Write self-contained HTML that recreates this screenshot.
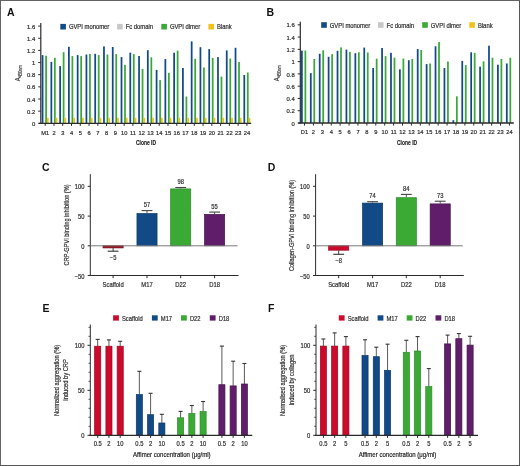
<!DOCTYPE html>
<html><head><meta charset="utf-8"><style>
html,body{margin:0;padding:0;background:#fff;}
body{width:520px;height:466px;overflow:hidden;position:relative;}
#fig{position:absolute;left:0;top:0;width:520px;height:466px;filter:blur(0.35px);}
svg{display:block;font-family:"Liberation Sans", sans-serif;}
#frame{position:absolute;left:0;top:0;width:518px;height:464px;border:1px solid #626262;border-right-color:#555;border-bottom-color:#555;}
</style></head><body>
<div id="fig"><svg width="520" height="466" viewBox="0 0 520 466">
<rect x="0" y="0" width="520" height="466" fill="#fff"/>
<text x="7.00" y="16.20" font-size="10.5" text-anchor="start" fill="#111" font-weight="bold" >A</text>
<line x1="40.80" y1="23.10" x2="40.80" y2="123.80" stroke="#2b2b2b" stroke-width="1.2"/>
<line x1="38.20" y1="123.30" x2="40.80" y2="123.30" stroke="#2b2b2b" stroke-width="1"/>
<text x="35.30" y="125.90" font-size="5.9" text-anchor="end" fill="#2e2e2e" font-weight="normal"  stroke="#2e2e2e" stroke-width="0.2">0</text>
<line x1="38.20" y1="111.15" x2="40.80" y2="111.15" stroke="#2b2b2b" stroke-width="1"/>
<text x="35.30" y="113.75" font-size="5.9" text-anchor="end" fill="#2e2e2e" font-weight="normal"  stroke="#2e2e2e" stroke-width="0.2">0.2</text>
<line x1="38.20" y1="99.00" x2="40.80" y2="99.00" stroke="#2b2b2b" stroke-width="1"/>
<text x="35.30" y="101.60" font-size="5.9" text-anchor="end" fill="#2e2e2e" font-weight="normal"  stroke="#2e2e2e" stroke-width="0.2">0.4</text>
<line x1="38.20" y1="86.85" x2="40.80" y2="86.85" stroke="#2b2b2b" stroke-width="1"/>
<text x="35.30" y="89.45" font-size="5.9" text-anchor="end" fill="#2e2e2e" font-weight="normal"  stroke="#2e2e2e" stroke-width="0.2">0.6</text>
<line x1="38.20" y1="74.70" x2="40.80" y2="74.70" stroke="#2b2b2b" stroke-width="1"/>
<text x="35.30" y="77.30" font-size="5.9" text-anchor="end" fill="#2e2e2e" font-weight="normal"  stroke="#2e2e2e" stroke-width="0.2">0.8</text>
<line x1="38.20" y1="62.55" x2="40.80" y2="62.55" stroke="#2b2b2b" stroke-width="1"/>
<text x="35.30" y="65.15" font-size="5.9" text-anchor="end" fill="#2e2e2e" font-weight="normal"  stroke="#2e2e2e" stroke-width="0.2">1</text>
<line x1="38.20" y1="50.40" x2="40.80" y2="50.40" stroke="#2b2b2b" stroke-width="1"/>
<text x="35.30" y="53.00" font-size="5.9" text-anchor="end" fill="#2e2e2e" font-weight="normal"  stroke="#2e2e2e" stroke-width="0.2">1.2</text>
<line x1="38.20" y1="38.25" x2="40.80" y2="38.25" stroke="#2b2b2b" stroke-width="1"/>
<text x="35.30" y="40.85" font-size="5.9" text-anchor="end" fill="#2e2e2e" font-weight="normal"  stroke="#2e2e2e" stroke-width="0.2">1.4</text>
<line x1="38.20" y1="26.10" x2="40.80" y2="26.10" stroke="#2b2b2b" stroke-width="1"/>
<text x="35.30" y="28.70" font-size="5.9" text-anchor="end" fill="#2e2e2e" font-weight="normal"  stroke="#2e2e2e" stroke-width="0.2">1.6</text>
<rect x="41.70" y="55.10" width="1.75" height="68.20" fill="#114a87"/>
<rect x="45.20" y="55.70" width="1.75" height="67.60" fill="#3aaa35"/>
<rect x="46.95" y="117.80" width="1.75" height="5.50" fill="#f1c21b"/>
<rect x="50.47" y="61.90" width="1.75" height="61.40" fill="#114a87"/>
<rect x="53.97" y="57.80" width="1.75" height="65.50" fill="#3aaa35"/>
<rect x="55.72" y="117.80" width="1.75" height="5.50" fill="#f1c21b"/>
<rect x="59.24" y="66.10" width="1.75" height="57.20" fill="#114a87"/>
<rect x="62.74" y="52.20" width="1.75" height="71.10" fill="#3aaa35"/>
<rect x="64.49" y="117.80" width="1.75" height="5.50" fill="#f1c21b"/>
<rect x="68.01" y="46.80" width="1.75" height="76.50" fill="#114a87"/>
<rect x="71.51" y="56.10" width="1.75" height="67.20" fill="#3aaa35"/>
<rect x="73.26" y="117.80" width="1.75" height="5.50" fill="#f1c21b"/>
<rect x="76.78" y="55.10" width="1.75" height="68.20" fill="#114a87"/>
<rect x="80.28" y="56.10" width="1.75" height="67.20" fill="#3aaa35"/>
<rect x="82.03" y="117.80" width="1.75" height="5.50" fill="#f1c21b"/>
<rect x="85.55" y="54.50" width="1.75" height="68.80" fill="#114a87"/>
<rect x="89.05" y="53.90" width="1.75" height="69.40" fill="#3aaa35"/>
<rect x="90.80" y="117.80" width="1.75" height="5.50" fill="#f1c21b"/>
<rect x="94.32" y="53.80" width="1.75" height="69.50" fill="#114a87"/>
<rect x="97.82" y="55.10" width="1.75" height="68.20" fill="#3aaa35"/>
<rect x="99.57" y="117.80" width="1.75" height="5.50" fill="#f1c21b"/>
<rect x="103.09" y="46.40" width="1.75" height="76.90" fill="#114a87"/>
<rect x="106.59" y="54.50" width="1.75" height="68.80" fill="#3aaa35"/>
<rect x="108.34" y="117.80" width="1.75" height="5.50" fill="#f1c21b"/>
<rect x="111.86" y="47.00" width="1.75" height="76.30" fill="#114a87"/>
<rect x="115.36" y="54.10" width="1.75" height="69.20" fill="#3aaa35"/>
<rect x="117.11" y="117.80" width="1.75" height="5.50" fill="#f1c21b"/>
<rect x="120.63" y="57.10" width="1.75" height="66.20" fill="#114a87"/>
<rect x="124.13" y="64.80" width="1.75" height="58.50" fill="#3aaa35"/>
<rect x="125.88" y="117.80" width="1.75" height="5.50" fill="#f1c21b"/>
<rect x="129.40" y="52.60" width="1.75" height="70.70" fill="#114a87"/>
<rect x="132.90" y="54.10" width="1.75" height="69.20" fill="#3aaa35"/>
<rect x="134.65" y="117.80" width="1.75" height="5.50" fill="#f1c21b"/>
<rect x="138.17" y="56.00" width="1.75" height="67.30" fill="#114a87"/>
<rect x="141.67" y="68.90" width="1.75" height="54.40" fill="#3aaa35"/>
<rect x="143.42" y="117.80" width="1.75" height="5.50" fill="#f1c21b"/>
<rect x="146.94" y="50.20" width="1.75" height="73.10" fill="#114a87"/>
<rect x="150.44" y="57.30" width="1.75" height="66.00" fill="#3aaa35"/>
<rect x="152.19" y="117.80" width="1.75" height="5.50" fill="#f1c21b"/>
<rect x="155.71" y="69.90" width="1.75" height="53.40" fill="#114a87"/>
<rect x="159.21" y="80.10" width="1.75" height="43.20" fill="#3aaa35"/>
<rect x="160.96" y="117.80" width="1.75" height="5.50" fill="#f1c21b"/>
<rect x="164.48" y="59.10" width="1.75" height="64.20" fill="#114a87"/>
<rect x="167.98" y="72.90" width="1.75" height="50.40" fill="#3aaa35"/>
<rect x="169.73" y="117.80" width="1.75" height="5.50" fill="#f1c21b"/>
<rect x="173.25" y="52.70" width="1.75" height="70.60" fill="#114a87"/>
<rect x="176.75" y="50.60" width="1.75" height="72.70" fill="#3aaa35"/>
<rect x="178.50" y="117.80" width="1.75" height="5.50" fill="#f1c21b"/>
<rect x="182.02" y="68.00" width="1.75" height="55.30" fill="#114a87"/>
<rect x="185.52" y="96.50" width="1.75" height="26.80" fill="#3aaa35"/>
<rect x="187.27" y="117.80" width="1.75" height="5.50" fill="#f1c21b"/>
<rect x="190.79" y="41.40" width="1.75" height="81.90" fill="#114a87"/>
<rect x="194.29" y="58.80" width="1.75" height="64.50" fill="#3aaa35"/>
<rect x="196.04" y="117.80" width="1.75" height="5.50" fill="#f1c21b"/>
<rect x="199.56" y="47.20" width="1.75" height="76.10" fill="#114a87"/>
<rect x="203.06" y="67.50" width="1.75" height="55.80" fill="#3aaa35"/>
<rect x="204.81" y="117.80" width="1.75" height="5.50" fill="#f1c21b"/>
<rect x="208.33" y="49.10" width="1.75" height="74.20" fill="#114a87"/>
<rect x="211.83" y="57.90" width="1.75" height="65.40" fill="#3aaa35"/>
<rect x="213.58" y="117.80" width="1.75" height="5.50" fill="#f1c21b"/>
<rect x="217.10" y="57.10" width="1.75" height="66.20" fill="#114a87"/>
<rect x="220.60" y="76.60" width="1.75" height="46.70" fill="#3aaa35"/>
<rect x="222.35" y="117.80" width="1.75" height="5.50" fill="#f1c21b"/>
<rect x="225.87" y="50.40" width="1.75" height="72.90" fill="#114a87"/>
<rect x="229.37" y="58.50" width="1.75" height="64.80" fill="#3aaa35"/>
<rect x="231.12" y="117.80" width="1.75" height="5.50" fill="#f1c21b"/>
<rect x="234.64" y="47.80" width="1.75" height="75.50" fill="#114a87"/>
<rect x="238.14" y="62.00" width="1.75" height="61.30" fill="#3aaa35"/>
<rect x="239.89" y="117.80" width="1.75" height="5.50" fill="#f1c21b"/>
<rect x="243.41" y="75.00" width="1.75" height="48.30" fill="#114a87"/>
<rect x="246.91" y="72.50" width="1.75" height="50.80" fill="#3aaa35"/>
<rect x="248.66" y="117.80" width="1.75" height="5.50" fill="#f1c21b"/>
<line x1="38.80" y1="123.30" x2="251.20" y2="123.30" stroke="#2b2b2b" stroke-width="1.3"/>
<line x1="45.20" y1="123.30" x2="45.20" y2="125.90" stroke="#2b2b2b" stroke-width="1.0"/>
<text transform="translate(45.20,134.70) scale(0.97,1)" font-size="5.9" text-anchor="middle" fill="#2e2e2e" font-weight="normal"  stroke="#2e2e2e" stroke-width="0.2">M1</text>
<line x1="53.97" y1="123.30" x2="53.97" y2="125.90" stroke="#2b2b2b" stroke-width="1.0"/>
<text transform="translate(53.97,134.70) scale(0.97,1)" font-size="5.9" text-anchor="middle" fill="#2e2e2e" font-weight="normal"  stroke="#2e2e2e" stroke-width="0.2">2</text>
<line x1="62.74" y1="123.30" x2="62.74" y2="125.90" stroke="#2b2b2b" stroke-width="1.0"/>
<text transform="translate(62.74,134.70) scale(0.97,1)" font-size="5.9" text-anchor="middle" fill="#2e2e2e" font-weight="normal"  stroke="#2e2e2e" stroke-width="0.2">3</text>
<line x1="71.51" y1="123.30" x2="71.51" y2="125.90" stroke="#2b2b2b" stroke-width="1.0"/>
<text transform="translate(71.51,134.70) scale(0.97,1)" font-size="5.9" text-anchor="middle" fill="#2e2e2e" font-weight="normal"  stroke="#2e2e2e" stroke-width="0.2">4</text>
<line x1="80.28" y1="123.30" x2="80.28" y2="125.90" stroke="#2b2b2b" stroke-width="1.0"/>
<text transform="translate(80.28,134.70) scale(0.97,1)" font-size="5.9" text-anchor="middle" fill="#2e2e2e" font-weight="normal"  stroke="#2e2e2e" stroke-width="0.2">5</text>
<line x1="89.05" y1="123.30" x2="89.05" y2="125.90" stroke="#2b2b2b" stroke-width="1.0"/>
<text transform="translate(89.05,134.70) scale(0.97,1)" font-size="5.9" text-anchor="middle" fill="#2e2e2e" font-weight="normal"  stroke="#2e2e2e" stroke-width="0.2">6</text>
<line x1="97.82" y1="123.30" x2="97.82" y2="125.90" stroke="#2b2b2b" stroke-width="1.0"/>
<text transform="translate(97.82,134.70) scale(0.97,1)" font-size="5.9" text-anchor="middle" fill="#2e2e2e" font-weight="normal"  stroke="#2e2e2e" stroke-width="0.2">7</text>
<line x1="106.59" y1="123.30" x2="106.59" y2="125.90" stroke="#2b2b2b" stroke-width="1.0"/>
<text transform="translate(106.59,134.70) scale(0.97,1)" font-size="5.9" text-anchor="middle" fill="#2e2e2e" font-weight="normal"  stroke="#2e2e2e" stroke-width="0.2">8</text>
<line x1="115.36" y1="123.30" x2="115.36" y2="125.90" stroke="#2b2b2b" stroke-width="1.0"/>
<text transform="translate(115.36,134.70) scale(0.97,1)" font-size="5.9" text-anchor="middle" fill="#2e2e2e" font-weight="normal"  stroke="#2e2e2e" stroke-width="0.2">9</text>
<line x1="124.13" y1="123.30" x2="124.13" y2="125.90" stroke="#2b2b2b" stroke-width="1.0"/>
<text transform="translate(124.13,134.70) scale(0.97,1)" font-size="5.9" text-anchor="middle" fill="#2e2e2e" font-weight="normal"  stroke="#2e2e2e" stroke-width="0.2">10</text>
<line x1="132.90" y1="123.30" x2="132.90" y2="125.90" stroke="#2b2b2b" stroke-width="1.0"/>
<text transform="translate(132.90,134.70) scale(0.97,1)" font-size="5.9" text-anchor="middle" fill="#2e2e2e" font-weight="normal"  stroke="#2e2e2e" stroke-width="0.2">11</text>
<line x1="141.67" y1="123.30" x2="141.67" y2="125.90" stroke="#2b2b2b" stroke-width="1.0"/>
<text transform="translate(141.67,134.70) scale(0.97,1)" font-size="5.9" text-anchor="middle" fill="#2e2e2e" font-weight="normal"  stroke="#2e2e2e" stroke-width="0.2">12</text>
<line x1="150.44" y1="123.30" x2="150.44" y2="125.90" stroke="#2b2b2b" stroke-width="1.0"/>
<text transform="translate(150.44,134.70) scale(0.97,1)" font-size="5.9" text-anchor="middle" fill="#2e2e2e" font-weight="normal"  stroke="#2e2e2e" stroke-width="0.2">13</text>
<line x1="159.21" y1="123.30" x2="159.21" y2="125.90" stroke="#2b2b2b" stroke-width="1.0"/>
<text transform="translate(159.21,134.70) scale(0.97,1)" font-size="5.9" text-anchor="middle" fill="#2e2e2e" font-weight="normal"  stroke="#2e2e2e" stroke-width="0.2">14</text>
<line x1="167.98" y1="123.30" x2="167.98" y2="125.90" stroke="#2b2b2b" stroke-width="1.0"/>
<text transform="translate(167.98,134.70) scale(0.97,1)" font-size="5.9" text-anchor="middle" fill="#2e2e2e" font-weight="normal"  stroke="#2e2e2e" stroke-width="0.2">15</text>
<line x1="176.75" y1="123.30" x2="176.75" y2="125.90" stroke="#2b2b2b" stroke-width="1.0"/>
<text transform="translate(176.75,134.70) scale(0.97,1)" font-size="5.9" text-anchor="middle" fill="#2e2e2e" font-weight="normal"  stroke="#2e2e2e" stroke-width="0.2">16</text>
<line x1="185.52" y1="123.30" x2="185.52" y2="125.90" stroke="#2b2b2b" stroke-width="1.0"/>
<text transform="translate(185.52,134.70) scale(0.97,1)" font-size="5.9" text-anchor="middle" fill="#2e2e2e" font-weight="normal"  stroke="#2e2e2e" stroke-width="0.2">17</text>
<line x1="194.29" y1="123.30" x2="194.29" y2="125.90" stroke="#2b2b2b" stroke-width="1.0"/>
<text transform="translate(194.29,134.70) scale(0.97,1)" font-size="5.9" text-anchor="middle" fill="#2e2e2e" font-weight="normal"  stroke="#2e2e2e" stroke-width="0.2">18</text>
<line x1="203.06" y1="123.30" x2="203.06" y2="125.90" stroke="#2b2b2b" stroke-width="1.0"/>
<text transform="translate(203.06,134.70) scale(0.97,1)" font-size="5.9" text-anchor="middle" fill="#2e2e2e" font-weight="normal"  stroke="#2e2e2e" stroke-width="0.2">19</text>
<line x1="211.83" y1="123.30" x2="211.83" y2="125.90" stroke="#2b2b2b" stroke-width="1.0"/>
<text transform="translate(211.83,134.70) scale(0.97,1)" font-size="5.9" text-anchor="middle" fill="#2e2e2e" font-weight="normal"  stroke="#2e2e2e" stroke-width="0.2">20</text>
<line x1="220.60" y1="123.30" x2="220.60" y2="125.90" stroke="#2b2b2b" stroke-width="1.0"/>
<text transform="translate(220.60,134.70) scale(0.97,1)" font-size="5.9" text-anchor="middle" fill="#2e2e2e" font-weight="normal"  stroke="#2e2e2e" stroke-width="0.2">21</text>
<line x1="229.37" y1="123.30" x2="229.37" y2="125.90" stroke="#2b2b2b" stroke-width="1.0"/>
<text transform="translate(229.37,134.70) scale(0.97,1)" font-size="5.9" text-anchor="middle" fill="#2e2e2e" font-weight="normal"  stroke="#2e2e2e" stroke-width="0.2">22</text>
<line x1="238.14" y1="123.30" x2="238.14" y2="125.90" stroke="#2b2b2b" stroke-width="1.0"/>
<text transform="translate(238.14,134.70) scale(0.97,1)" font-size="5.9" text-anchor="middle" fill="#2e2e2e" font-weight="normal"  stroke="#2e2e2e" stroke-width="0.2">23</text>
<line x1="246.91" y1="123.30" x2="246.91" y2="125.90" stroke="#2b2b2b" stroke-width="1.0"/>
<text transform="translate(246.91,134.70) scale(0.97,1)" font-size="5.9" text-anchor="middle" fill="#2e2e2e" font-weight="normal"  stroke="#2e2e2e" stroke-width="0.2">24</text>
<text transform="translate(146.00,145.10) scale(0.7,1)" font-size="7.1" text-anchor="middle" fill="#222" font-weight="bold" stroke="#222" stroke-width="0.15">Clone ID</text>
<text transform="translate(19.70,81.20) rotate(-90) scale(0.80,1)" font-size="7.4" fill="#2e2e2e" stroke="#2e2e2e" stroke-width="0.2">A</text>
<text transform="translate(21.70,77.20) rotate(-90) scale(0.70,1)" font-size="5.6" fill="#2e2e2e" stroke="#2e2e2e" stroke-width="0.15">450nm</text>
<rect x="60.30" y="23.90" width="5.60" height="5.60" fill="#114a87"/>
<text transform="translate(68.90,29.20) scale(0.92,1)" font-size="6.4" text-anchor="start" fill="#2e2e2e" font-weight="normal"  stroke="#2e2e2e" stroke-width="0.2">GVPI monomer</text>
<rect x="117.10" y="23.90" width="5.60" height="5.60" fill="#c8c8c8"/>
<text transform="translate(125.70,29.20) scale(0.92,1)" font-size="6.4" text-anchor="start" fill="#2e2e2e" font-weight="normal"  stroke="#2e2e2e" stroke-width="0.2">Fc domain</text>
<rect x="161.30" y="23.90" width="5.60" height="5.60" fill="#3aaa35"/>
<text transform="translate(169.90,29.20) scale(0.92,1)" font-size="6.4" text-anchor="start" fill="#2e2e2e" font-weight="normal"  stroke="#2e2e2e" stroke-width="0.2">GVPI dimer</text>
<rect x="208.40" y="23.90" width="5.60" height="5.60" fill="#f1c21b"/>
<text transform="translate(217.00,29.20) scale(0.92,1)" font-size="6.4" text-anchor="start" fill="#2e2e2e" font-weight="normal"  stroke="#2e2e2e" stroke-width="0.2">Blank</text>
<text x="266.50" y="15.70" font-size="10.5" text-anchor="start" fill="#111" font-weight="bold" >B</text>
<line x1="300.30" y1="21.80" x2="300.30" y2="123.50" stroke="#2b2b2b" stroke-width="1.2"/>
<line x1="297.70" y1="123.00" x2="300.30" y2="123.00" stroke="#2b2b2b" stroke-width="1"/>
<text x="294.80" y="125.60" font-size="5.9" text-anchor="end" fill="#2e2e2e" font-weight="normal"  stroke="#2e2e2e" stroke-width="0.2">0</text>
<line x1="297.70" y1="110.72" x2="300.30" y2="110.72" stroke="#2b2b2b" stroke-width="1"/>
<text x="294.80" y="113.32" font-size="5.9" text-anchor="end" fill="#2e2e2e" font-weight="normal"  stroke="#2e2e2e" stroke-width="0.2">0.2</text>
<line x1="297.70" y1="98.45" x2="300.30" y2="98.45" stroke="#2b2b2b" stroke-width="1"/>
<text x="294.80" y="101.05" font-size="5.9" text-anchor="end" fill="#2e2e2e" font-weight="normal"  stroke="#2e2e2e" stroke-width="0.2">0.4</text>
<line x1="297.70" y1="86.17" x2="300.30" y2="86.17" stroke="#2b2b2b" stroke-width="1"/>
<text x="294.80" y="88.77" font-size="5.9" text-anchor="end" fill="#2e2e2e" font-weight="normal"  stroke="#2e2e2e" stroke-width="0.2">0.6</text>
<line x1="297.70" y1="73.90" x2="300.30" y2="73.90" stroke="#2b2b2b" stroke-width="1"/>
<text x="294.80" y="76.50" font-size="5.9" text-anchor="end" fill="#2e2e2e" font-weight="normal"  stroke="#2e2e2e" stroke-width="0.2">0.8</text>
<line x1="297.70" y1="61.62" x2="300.30" y2="61.62" stroke="#2b2b2b" stroke-width="1"/>
<text x="294.80" y="64.22" font-size="5.9" text-anchor="end" fill="#2e2e2e" font-weight="normal"  stroke="#2e2e2e" stroke-width="0.2">1</text>
<line x1="297.70" y1="49.35" x2="300.30" y2="49.35" stroke="#2b2b2b" stroke-width="1"/>
<text x="294.80" y="51.95" font-size="5.9" text-anchor="end" fill="#2e2e2e" font-weight="normal"  stroke="#2e2e2e" stroke-width="0.2">1.2</text>
<line x1="297.70" y1="37.07" x2="300.30" y2="37.07" stroke="#2b2b2b" stroke-width="1"/>
<text x="294.80" y="39.67" font-size="5.9" text-anchor="end" fill="#2e2e2e" font-weight="normal"  stroke="#2e2e2e" stroke-width="0.2">1.4</text>
<line x1="297.70" y1="24.80" x2="300.30" y2="24.80" stroke="#2b2b2b" stroke-width="1"/>
<text x="294.80" y="27.40" font-size="5.9" text-anchor="end" fill="#2e2e2e" font-weight="normal"  stroke="#2e2e2e" stroke-width="0.2">1.6</text>
<rect x="301.00" y="50.60" width="1.75" height="72.40" fill="#114a87"/>
<rect x="304.50" y="50.60" width="1.75" height="72.40" fill="#3aaa35"/>
<rect x="306.25" y="122.30" width="1.75" height="0.70" fill="#f1c21b"/>
<rect x="309.91" y="73.10" width="1.75" height="49.90" fill="#114a87"/>
<rect x="313.41" y="59.00" width="1.75" height="64.00" fill="#3aaa35"/>
<rect x="315.16" y="122.30" width="1.75" height="0.70" fill="#f1c21b"/>
<rect x="318.82" y="53.80" width="1.75" height="69.20" fill="#114a87"/>
<rect x="322.32" y="50.30" width="1.75" height="72.70" fill="#3aaa35"/>
<rect x="324.07" y="122.30" width="1.75" height="0.70" fill="#f1c21b"/>
<rect x="327.73" y="56.80" width="1.75" height="66.20" fill="#114a87"/>
<rect x="331.23" y="54.20" width="1.75" height="68.80" fill="#3aaa35"/>
<rect x="332.98" y="122.30" width="1.75" height="0.70" fill="#f1c21b"/>
<rect x="336.64" y="50.80" width="1.75" height="72.20" fill="#114a87"/>
<rect x="340.14" y="47.40" width="1.75" height="75.60" fill="#3aaa35"/>
<rect x="341.89" y="122.30" width="1.75" height="0.70" fill="#f1c21b"/>
<rect x="345.55" y="49.60" width="1.75" height="73.40" fill="#114a87"/>
<rect x="349.05" y="51.90" width="1.75" height="71.10" fill="#3aaa35"/>
<rect x="350.80" y="122.30" width="1.75" height="0.70" fill="#f1c21b"/>
<rect x="354.46" y="53.20" width="1.75" height="69.80" fill="#114a87"/>
<rect x="357.96" y="52.30" width="1.75" height="70.70" fill="#3aaa35"/>
<rect x="359.71" y="122.30" width="1.75" height="0.70" fill="#f1c21b"/>
<rect x="363.37" y="47.60" width="1.75" height="75.40" fill="#114a87"/>
<rect x="366.87" y="52.50" width="1.75" height="70.50" fill="#3aaa35"/>
<rect x="368.62" y="122.30" width="1.75" height="0.70" fill="#f1c21b"/>
<rect x="372.28" y="68.00" width="1.75" height="55.00" fill="#114a87"/>
<rect x="375.78" y="58.70" width="1.75" height="64.30" fill="#3aaa35"/>
<rect x="377.53" y="122.30" width="1.75" height="0.70" fill="#f1c21b"/>
<rect x="381.19" y="48.00" width="1.75" height="75.00" fill="#114a87"/>
<rect x="384.69" y="56.10" width="1.75" height="66.90" fill="#3aaa35"/>
<rect x="386.44" y="122.30" width="1.75" height="0.70" fill="#f1c21b"/>
<rect x="390.10" y="52.80" width="1.75" height="70.20" fill="#114a87"/>
<rect x="393.60" y="57.70" width="1.75" height="65.30" fill="#3aaa35"/>
<rect x="395.35" y="122.30" width="1.75" height="0.70" fill="#f1c21b"/>
<rect x="399.01" y="69.30" width="1.75" height="53.70" fill="#114a87"/>
<rect x="402.51" y="58.60" width="1.75" height="64.40" fill="#3aaa35"/>
<rect x="404.26" y="122.30" width="1.75" height="0.70" fill="#f1c21b"/>
<rect x="407.92" y="60.20" width="1.75" height="62.80" fill="#114a87"/>
<rect x="411.42" y="59.00" width="1.75" height="64.00" fill="#3aaa35"/>
<rect x="413.17" y="122.30" width="1.75" height="0.70" fill="#f1c21b"/>
<rect x="416.83" y="49.00" width="1.75" height="74.00" fill="#114a87"/>
<rect x="420.33" y="50.00" width="1.75" height="73.00" fill="#3aaa35"/>
<rect x="422.08" y="122.30" width="1.75" height="0.70" fill="#f1c21b"/>
<rect x="425.74" y="64.10" width="1.75" height="58.90" fill="#114a87"/>
<rect x="429.24" y="63.50" width="1.75" height="59.50" fill="#3aaa35"/>
<rect x="430.99" y="122.30" width="1.75" height="0.70" fill="#f1c21b"/>
<rect x="434.65" y="46.30" width="1.75" height="76.70" fill="#114a87"/>
<rect x="438.15" y="42.00" width="1.75" height="81.00" fill="#3aaa35"/>
<rect x="439.90" y="122.30" width="1.75" height="0.70" fill="#f1c21b"/>
<rect x="443.56" y="68.00" width="1.75" height="55.00" fill="#114a87"/>
<rect x="447.06" y="61.50" width="1.75" height="61.50" fill="#3aaa35"/>
<rect x="448.81" y="122.30" width="1.75" height="0.70" fill="#f1c21b"/>
<rect x="452.47" y="120.20" width="1.75" height="2.80" fill="#114a87"/>
<rect x="455.97" y="96.30" width="1.75" height="26.70" fill="#3aaa35"/>
<rect x="457.72" y="122.30" width="1.75" height="0.70" fill="#f1c21b"/>
<rect x="461.38" y="60.90" width="1.75" height="62.10" fill="#114a87"/>
<rect x="464.88" y="65.10" width="1.75" height="57.90" fill="#3aaa35"/>
<rect x="466.63" y="122.30" width="1.75" height="0.70" fill="#f1c21b"/>
<rect x="470.29" y="52.30" width="1.75" height="70.70" fill="#114a87"/>
<rect x="473.79" y="52.90" width="1.75" height="70.10" fill="#3aaa35"/>
<rect x="475.54" y="122.30" width="1.75" height="0.70" fill="#f1c21b"/>
<rect x="479.20" y="66.70" width="1.75" height="56.30" fill="#114a87"/>
<rect x="482.70" y="61.30" width="1.75" height="61.70" fill="#3aaa35"/>
<rect x="484.45" y="122.30" width="1.75" height="0.70" fill="#f1c21b"/>
<rect x="488.11" y="45.70" width="1.75" height="77.30" fill="#114a87"/>
<rect x="491.61" y="57.70" width="1.75" height="65.30" fill="#3aaa35"/>
<rect x="493.36" y="122.30" width="1.75" height="0.70" fill="#f1c21b"/>
<rect x="497.02" y="64.70" width="1.75" height="58.30" fill="#114a87"/>
<rect x="500.52" y="59.00" width="1.75" height="64.00" fill="#3aaa35"/>
<rect x="502.27" y="122.30" width="1.75" height="0.70" fill="#f1c21b"/>
<rect x="505.93" y="63.50" width="1.75" height="59.50" fill="#114a87"/>
<rect x="509.43" y="57.70" width="1.75" height="65.30" fill="#3aaa35"/>
<rect x="511.18" y="122.30" width="1.75" height="0.70" fill="#f1c21b"/>
<line x1="298.30" y1="123.00" x2="513.80" y2="123.00" stroke="#2b2b2b" stroke-width="1.3"/>
<line x1="304.50" y1="123.00" x2="304.50" y2="125.60" stroke="#2b2b2b" stroke-width="1.0"/>
<text transform="translate(304.50,134.30) scale(0.97,1)" font-size="5.9" text-anchor="middle" fill="#2e2e2e" font-weight="normal"  stroke="#2e2e2e" stroke-width="0.2">D1</text>
<line x1="313.41" y1="123.00" x2="313.41" y2="125.60" stroke="#2b2b2b" stroke-width="1.0"/>
<text transform="translate(313.41,134.30) scale(0.97,1)" font-size="5.9" text-anchor="middle" fill="#2e2e2e" font-weight="normal"  stroke="#2e2e2e" stroke-width="0.2">2</text>
<line x1="322.32" y1="123.00" x2="322.32" y2="125.60" stroke="#2b2b2b" stroke-width="1.0"/>
<text transform="translate(322.32,134.30) scale(0.97,1)" font-size="5.9" text-anchor="middle" fill="#2e2e2e" font-weight="normal"  stroke="#2e2e2e" stroke-width="0.2">3</text>
<line x1="331.23" y1="123.00" x2="331.23" y2="125.60" stroke="#2b2b2b" stroke-width="1.0"/>
<text transform="translate(331.23,134.30) scale(0.97,1)" font-size="5.9" text-anchor="middle" fill="#2e2e2e" font-weight="normal"  stroke="#2e2e2e" stroke-width="0.2">4</text>
<line x1="340.14" y1="123.00" x2="340.14" y2="125.60" stroke="#2b2b2b" stroke-width="1.0"/>
<text transform="translate(340.14,134.30) scale(0.97,1)" font-size="5.9" text-anchor="middle" fill="#2e2e2e" font-weight="normal"  stroke="#2e2e2e" stroke-width="0.2">5</text>
<line x1="349.05" y1="123.00" x2="349.05" y2="125.60" stroke="#2b2b2b" stroke-width="1.0"/>
<text transform="translate(349.05,134.30) scale(0.97,1)" font-size="5.9" text-anchor="middle" fill="#2e2e2e" font-weight="normal"  stroke="#2e2e2e" stroke-width="0.2">6</text>
<line x1="357.96" y1="123.00" x2="357.96" y2="125.60" stroke="#2b2b2b" stroke-width="1.0"/>
<text transform="translate(357.96,134.30) scale(0.97,1)" font-size="5.9" text-anchor="middle" fill="#2e2e2e" font-weight="normal"  stroke="#2e2e2e" stroke-width="0.2">7</text>
<line x1="366.87" y1="123.00" x2="366.87" y2="125.60" stroke="#2b2b2b" stroke-width="1.0"/>
<text transform="translate(366.87,134.30) scale(0.97,1)" font-size="5.9" text-anchor="middle" fill="#2e2e2e" font-weight="normal"  stroke="#2e2e2e" stroke-width="0.2">8</text>
<line x1="375.78" y1="123.00" x2="375.78" y2="125.60" stroke="#2b2b2b" stroke-width="1.0"/>
<text transform="translate(375.78,134.30) scale(0.97,1)" font-size="5.9" text-anchor="middle" fill="#2e2e2e" font-weight="normal"  stroke="#2e2e2e" stroke-width="0.2">9</text>
<line x1="384.69" y1="123.00" x2="384.69" y2="125.60" stroke="#2b2b2b" stroke-width="1.0"/>
<text transform="translate(384.69,134.30) scale(0.97,1)" font-size="5.9" text-anchor="middle" fill="#2e2e2e" font-weight="normal"  stroke="#2e2e2e" stroke-width="0.2">10</text>
<line x1="393.60" y1="123.00" x2="393.60" y2="125.60" stroke="#2b2b2b" stroke-width="1.0"/>
<text transform="translate(393.60,134.30) scale(0.97,1)" font-size="5.9" text-anchor="middle" fill="#2e2e2e" font-weight="normal"  stroke="#2e2e2e" stroke-width="0.2">11</text>
<line x1="402.51" y1="123.00" x2="402.51" y2="125.60" stroke="#2b2b2b" stroke-width="1.0"/>
<text transform="translate(402.51,134.30) scale(0.97,1)" font-size="5.9" text-anchor="middle" fill="#2e2e2e" font-weight="normal"  stroke="#2e2e2e" stroke-width="0.2">12</text>
<line x1="411.42" y1="123.00" x2="411.42" y2="125.60" stroke="#2b2b2b" stroke-width="1.0"/>
<text transform="translate(411.42,134.30) scale(0.97,1)" font-size="5.9" text-anchor="middle" fill="#2e2e2e" font-weight="normal"  stroke="#2e2e2e" stroke-width="0.2">13</text>
<line x1="420.33" y1="123.00" x2="420.33" y2="125.60" stroke="#2b2b2b" stroke-width="1.0"/>
<text transform="translate(420.33,134.30) scale(0.97,1)" font-size="5.9" text-anchor="middle" fill="#2e2e2e" font-weight="normal"  stroke="#2e2e2e" stroke-width="0.2">14</text>
<line x1="429.24" y1="123.00" x2="429.24" y2="125.60" stroke="#2b2b2b" stroke-width="1.0"/>
<text transform="translate(429.24,134.30) scale(0.97,1)" font-size="5.9" text-anchor="middle" fill="#2e2e2e" font-weight="normal"  stroke="#2e2e2e" stroke-width="0.2">15</text>
<line x1="438.15" y1="123.00" x2="438.15" y2="125.60" stroke="#2b2b2b" stroke-width="1.0"/>
<text transform="translate(438.15,134.30) scale(0.97,1)" font-size="5.9" text-anchor="middle" fill="#2e2e2e" font-weight="normal"  stroke="#2e2e2e" stroke-width="0.2">16</text>
<line x1="447.06" y1="123.00" x2="447.06" y2="125.60" stroke="#2b2b2b" stroke-width="1.0"/>
<text transform="translate(447.06,134.30) scale(0.97,1)" font-size="5.9" text-anchor="middle" fill="#2e2e2e" font-weight="normal"  stroke="#2e2e2e" stroke-width="0.2">17</text>
<line x1="455.97" y1="123.00" x2="455.97" y2="125.60" stroke="#2b2b2b" stroke-width="1.0"/>
<text transform="translate(455.97,134.30) scale(0.97,1)" font-size="5.9" text-anchor="middle" fill="#2e2e2e" font-weight="normal"  stroke="#2e2e2e" stroke-width="0.2">18</text>
<line x1="464.88" y1="123.00" x2="464.88" y2="125.60" stroke="#2b2b2b" stroke-width="1.0"/>
<text transform="translate(464.88,134.30) scale(0.97,1)" font-size="5.9" text-anchor="middle" fill="#2e2e2e" font-weight="normal"  stroke="#2e2e2e" stroke-width="0.2">19</text>
<line x1="473.79" y1="123.00" x2="473.79" y2="125.60" stroke="#2b2b2b" stroke-width="1.0"/>
<text transform="translate(473.79,134.30) scale(0.97,1)" font-size="5.9" text-anchor="middle" fill="#2e2e2e" font-weight="normal"  stroke="#2e2e2e" stroke-width="0.2">20</text>
<line x1="482.70" y1="123.00" x2="482.70" y2="125.60" stroke="#2b2b2b" stroke-width="1.0"/>
<text transform="translate(482.70,134.30) scale(0.97,1)" font-size="5.9" text-anchor="middle" fill="#2e2e2e" font-weight="normal"  stroke="#2e2e2e" stroke-width="0.2">21</text>
<line x1="491.61" y1="123.00" x2="491.61" y2="125.60" stroke="#2b2b2b" stroke-width="1.0"/>
<text transform="translate(491.61,134.30) scale(0.97,1)" font-size="5.9" text-anchor="middle" fill="#2e2e2e" font-weight="normal"  stroke="#2e2e2e" stroke-width="0.2">22</text>
<line x1="500.52" y1="123.00" x2="500.52" y2="125.60" stroke="#2b2b2b" stroke-width="1.0"/>
<text transform="translate(500.52,134.30) scale(0.97,1)" font-size="5.9" text-anchor="middle" fill="#2e2e2e" font-weight="normal"  stroke="#2e2e2e" stroke-width="0.2">23</text>
<line x1="509.43" y1="123.00" x2="509.43" y2="125.60" stroke="#2b2b2b" stroke-width="1.0"/>
<text transform="translate(509.43,134.30) scale(0.97,1)" font-size="5.9" text-anchor="middle" fill="#2e2e2e" font-weight="normal"  stroke="#2e2e2e" stroke-width="0.2">24</text>
<text transform="translate(407.05,145.10) scale(0.7,1)" font-size="7.1" text-anchor="middle" fill="#222" font-weight="bold" stroke="#222" stroke-width="0.15">Clone ID</text>
<text transform="translate(279.00,81.20) rotate(-90) scale(0.80,1)" font-size="7.4" fill="#2e2e2e" stroke="#2e2e2e" stroke-width="0.2">A</text>
<text transform="translate(281.00,77.20) rotate(-90) scale(0.70,1)" font-size="5.6" fill="#2e2e2e" stroke="#2e2e2e" stroke-width="0.15">450nm</text>
<rect x="321.20" y="22.20" width="5.60" height="5.60" fill="#114a87"/>
<text transform="translate(329.80,27.50) scale(0.92,1)" font-size="6.4" text-anchor="start" fill="#2e2e2e" font-weight="normal"  stroke="#2e2e2e" stroke-width="0.2">GVPI monomer</text>
<rect x="378.00" y="22.20" width="5.60" height="5.60" fill="#c8c8c8"/>
<text transform="translate(386.60,27.50) scale(0.92,1)" font-size="6.4" text-anchor="start" fill="#2e2e2e" font-weight="normal"  stroke="#2e2e2e" stroke-width="0.2">Fc domain</text>
<rect x="422.20" y="22.20" width="5.60" height="5.60" fill="#3aaa35"/>
<text transform="translate(430.80,27.50) scale(0.92,1)" font-size="6.4" text-anchor="start" fill="#2e2e2e" font-weight="normal"  stroke="#2e2e2e" stroke-width="0.2">GVPI dimer</text>
<rect x="469.30" y="22.20" width="5.60" height="5.60" fill="#f1c21b"/>
<text transform="translate(477.90,27.50) scale(0.92,1)" font-size="6.4" text-anchor="start" fill="#2e2e2e" font-weight="normal"  stroke="#2e2e2e" stroke-width="0.2">Blank</text>
<text x="42.00" y="171.00" font-size="10.5" text-anchor="start" fill="#111" font-weight="bold" >C</text>
<line x1="90.30" y1="174.20" x2="90.30" y2="275.80" stroke="#2b2b2b" stroke-width="1"/>
<line x1="87.70" y1="186.30" x2="90.30" y2="186.30" stroke="#2b2b2b" stroke-width="1"/>
<text transform="translate(84.50,189.40) scale(0.88,1)" font-size="6.6" text-anchor="end" fill="#2e2e2e" font-weight="normal"  stroke="#2e2e2e" stroke-width="0.2">100</text>
<line x1="87.70" y1="216.10" x2="90.30" y2="216.10" stroke="#2b2b2b" stroke-width="1"/>
<text transform="translate(84.50,219.20) scale(0.88,1)" font-size="6.6" text-anchor="end" fill="#2e2e2e" font-weight="normal"  stroke="#2e2e2e" stroke-width="0.2">50</text>
<line x1="87.70" y1="245.80" x2="90.30" y2="245.80" stroke="#2b2b2b" stroke-width="1"/>
<text transform="translate(84.50,248.90) scale(0.88,1)" font-size="6.6" text-anchor="end" fill="#2e2e2e" font-weight="normal"  stroke="#2e2e2e" stroke-width="0.2">0</text>
<line x1="87.70" y1="275.50" x2="90.30" y2="275.50" stroke="#2b2b2b" stroke-width="1"/>
<text transform="translate(84.50,278.60) scale(0.88,1)" font-size="6.6" text-anchor="end" fill="#2e2e2e" font-weight="normal"  stroke="#2e2e2e" stroke-width="0.2">&#8722;50</text>
<rect x="103.05" y="245.80" width="20.10" height="2.10" fill="#a3101f" stroke="#6e0812" stroke-width="0.7"/>
<line x1="113.10" y1="247.90" x2="113.10" y2="251.20" stroke="#444" stroke-width="1.0"/>
<line x1="107.70" y1="251.20" x2="118.50" y2="251.20" stroke="#333" stroke-width="1.1"/>
<text transform="translate(113.10,259.50) scale(0.88,1)" font-size="6.6" text-anchor="middle" fill="#2e2e2e" font-weight="normal"  stroke="#2e2e2e" stroke-width="0.2">&#8722;5</text>
<rect x="136.95" y="213.50" width="20.10" height="32.30" fill="#114a87" stroke="#0a3868" stroke-width="0.7"/>
<line x1="147.00" y1="213.10" x2="147.00" y2="210.60" stroke="#555" stroke-width="1.0"/>
<line x1="141.60" y1="210.60" x2="152.40" y2="210.60" stroke="#444" stroke-width="1.1"/>
<text transform="translate(147.00,207.40) scale(0.88,1)" font-size="6.6" text-anchor="middle" fill="#2e2e2e" font-weight="normal"  stroke="#2e2e2e" stroke-width="0.2">57</text>
<rect x="170.65" y="188.90" width="20.10" height="56.90" fill="#3aaa35" stroke="#2a8a28" stroke-width="0.7"/>
<line x1="180.70" y1="188.50" x2="180.70" y2="187.50" stroke="#555" stroke-width="1.0"/>
<line x1="175.30" y1="187.50" x2="186.10" y2="187.50" stroke="#444" stroke-width="1.1"/>
<text transform="translate(180.70,183.80) scale(0.88,1)" font-size="6.6" text-anchor="middle" fill="#2e2e2e" font-weight="normal"  stroke="#2e2e2e" stroke-width="0.2">98</text>
<rect x="204.55" y="214.40" width="20.10" height="31.40" fill="#601d6a" stroke="#45124e" stroke-width="0.7"/>
<line x1="214.60" y1="214.00" x2="214.60" y2="212.10" stroke="#555" stroke-width="1.0"/>
<line x1="209.20" y1="212.10" x2="220.00" y2="212.10" stroke="#444" stroke-width="1.1"/>
<text transform="translate(214.60,208.70) scale(0.88,1)" font-size="6.6" text-anchor="middle" fill="#2e2e2e" font-weight="normal"  stroke="#2e2e2e" stroke-width="0.2">55</text>
<line x1="90.30" y1="245.80" x2="237.50" y2="245.80" stroke="#7a7a7a" stroke-width="1"/>
<line x1="89.30" y1="275.50" x2="238.50" y2="275.50" stroke="#2b2b2b" stroke-width="1.2"/>
<line x1="113.10" y1="275.50" x2="113.10" y2="278.20" stroke="#2b2b2b" stroke-width="1.0"/>
<text transform="translate(113.10,286.60) scale(0.89,1)" font-size="6.6" text-anchor="middle" fill="#2e2e2e" font-weight="normal"  stroke="#2e2e2e" stroke-width="0.2">Scaffold</text>
<line x1="147.00" y1="275.50" x2="147.00" y2="278.20" stroke="#2b2b2b" stroke-width="1.0"/>
<text transform="translate(147.00,286.60) scale(0.89,1)" font-size="6.6" text-anchor="middle" fill="#2e2e2e" font-weight="normal"  stroke="#2e2e2e" stroke-width="0.2">M17</text>
<line x1="180.70" y1="275.50" x2="180.70" y2="278.20" stroke="#2b2b2b" stroke-width="1.0"/>
<text transform="translate(180.70,286.60) scale(0.89,1)" font-size="6.6" text-anchor="middle" fill="#2e2e2e" font-weight="normal"  stroke="#2e2e2e" stroke-width="0.2">D22</text>
<line x1="214.60" y1="275.50" x2="214.60" y2="278.20" stroke="#2b2b2b" stroke-width="1.0"/>
<text transform="translate(214.60,286.60) scale(0.89,1)" font-size="6.6" text-anchor="middle" fill="#2e2e2e" font-weight="normal"  stroke="#2e2e2e" stroke-width="0.2">D18</text>
<text transform="translate(68.90,224.90) rotate(-90) scale(0.783,1)" font-size="7.2" text-anchor="middle" fill="#2e2e2e" font-weight="normal" stroke="#2e2e2e" stroke-width="0.2">CRP-GPVI binding inhibition (%)</text>
<text x="267.80" y="171.00" font-size="10.5" text-anchor="start" fill="#111" font-weight="bold" >D</text>
<line x1="315.60" y1="174.20" x2="315.60" y2="275.80" stroke="#2b2b2b" stroke-width="1"/>
<line x1="313.00" y1="186.30" x2="315.60" y2="186.30" stroke="#2b2b2b" stroke-width="1"/>
<text transform="translate(309.80,189.40) scale(0.88,1)" font-size="6.6" text-anchor="end" fill="#2e2e2e" font-weight="normal"  stroke="#2e2e2e" stroke-width="0.2">100</text>
<line x1="313.00" y1="216.10" x2="315.60" y2="216.10" stroke="#2b2b2b" stroke-width="1"/>
<text transform="translate(309.80,219.20) scale(0.88,1)" font-size="6.6" text-anchor="end" fill="#2e2e2e" font-weight="normal"  stroke="#2e2e2e" stroke-width="0.2">50</text>
<line x1="313.00" y1="245.80" x2="315.60" y2="245.80" stroke="#2b2b2b" stroke-width="1"/>
<text transform="translate(309.80,248.90) scale(0.88,1)" font-size="6.6" text-anchor="end" fill="#2e2e2e" font-weight="normal"  stroke="#2e2e2e" stroke-width="0.2">0</text>
<line x1="313.00" y1="275.50" x2="315.60" y2="275.50" stroke="#2b2b2b" stroke-width="1"/>
<text transform="translate(309.80,278.60) scale(0.88,1)" font-size="6.6" text-anchor="end" fill="#2e2e2e" font-weight="normal"  stroke="#2e2e2e" stroke-width="0.2">&#8722;50</text>
<rect x="328.65" y="245.80" width="20.10" height="4.40" fill="#cc0a2c" stroke="#9c0620" stroke-width="0.7"/>
<line x1="338.70" y1="250.20" x2="338.70" y2="254.30" stroke="#444" stroke-width="1.0"/>
<line x1="333.30" y1="254.30" x2="344.10" y2="254.30" stroke="#333" stroke-width="1.1"/>
<text transform="translate(338.70,262.60) scale(0.88,1)" font-size="6.6" text-anchor="middle" fill="#2e2e2e" font-weight="normal"  stroke="#2e2e2e" stroke-width="0.2">&#8722;8</text>
<rect x="362.55" y="203.10" width="20.10" height="42.70" fill="#114a87" stroke="#0a3868" stroke-width="0.7"/>
<line x1="372.60" y1="202.70" x2="372.60" y2="201.70" stroke="#555" stroke-width="1.0"/>
<line x1="367.20" y1="201.70" x2="378.00" y2="201.70" stroke="#444" stroke-width="1.1"/>
<text transform="translate(372.60,197.80) scale(0.88,1)" font-size="6.6" text-anchor="middle" fill="#2e2e2e" font-weight="normal"  stroke="#2e2e2e" stroke-width="0.2">74</text>
<rect x="396.25" y="197.70" width="20.10" height="48.10" fill="#3aaa35" stroke="#2a8a28" stroke-width="0.7"/>
<line x1="406.30" y1="197.30" x2="406.30" y2="194.40" stroke="#555" stroke-width="1.0"/>
<line x1="400.90" y1="194.40" x2="411.70" y2="194.40" stroke="#444" stroke-width="1.1"/>
<text transform="translate(406.30,191.00) scale(0.88,1)" font-size="6.6" text-anchor="middle" fill="#2e2e2e" font-weight="normal"  stroke="#2e2e2e" stroke-width="0.2">84</text>
<rect x="430.15" y="203.90" width="20.10" height="41.90" fill="#601d6a" stroke="#45124e" stroke-width="0.7"/>
<line x1="440.20" y1="203.50" x2="440.20" y2="201.20" stroke="#555" stroke-width="1.0"/>
<line x1="434.80" y1="201.20" x2="445.60" y2="201.20" stroke="#444" stroke-width="1.1"/>
<text transform="translate(440.20,197.80) scale(0.88,1)" font-size="6.6" text-anchor="middle" fill="#2e2e2e" font-weight="normal"  stroke="#2e2e2e" stroke-width="0.2">73</text>
<line x1="315.60" y1="245.80" x2="462.80" y2="245.80" stroke="#7a7a7a" stroke-width="1"/>
<line x1="314.60" y1="275.50" x2="463.80" y2="275.50" stroke="#2b2b2b" stroke-width="1.2"/>
<line x1="338.70" y1="275.50" x2="338.70" y2="278.20" stroke="#2b2b2b" stroke-width="1.0"/>
<text transform="translate(338.70,286.60) scale(0.89,1)" font-size="6.6" text-anchor="middle" fill="#2e2e2e" font-weight="normal"  stroke="#2e2e2e" stroke-width="0.2">Scaffold</text>
<line x1="372.60" y1="275.50" x2="372.60" y2="278.20" stroke="#2b2b2b" stroke-width="1.0"/>
<text transform="translate(372.60,286.60) scale(0.89,1)" font-size="6.6" text-anchor="middle" fill="#2e2e2e" font-weight="normal"  stroke="#2e2e2e" stroke-width="0.2">M17</text>
<line x1="406.30" y1="275.50" x2="406.30" y2="278.20" stroke="#2b2b2b" stroke-width="1.0"/>
<text transform="translate(406.30,286.60) scale(0.89,1)" font-size="6.6" text-anchor="middle" fill="#2e2e2e" font-weight="normal"  stroke="#2e2e2e" stroke-width="0.2">D22</text>
<line x1="440.20" y1="275.50" x2="440.20" y2="278.20" stroke="#2b2b2b" stroke-width="1.0"/>
<text transform="translate(440.20,286.60) scale(0.89,1)" font-size="6.6" text-anchor="middle" fill="#2e2e2e" font-weight="normal"  stroke="#2e2e2e" stroke-width="0.2">D18</text>
<text transform="translate(293.60,225.45) rotate(-90) scale(0.783,1)" font-size="7.2" text-anchor="middle" fill="#2e2e2e" font-weight="normal" stroke="#2e2e2e" stroke-width="0.2">Collagen-GPVI binding inhibition (%)</text>
<text x="42.60" y="311.80" font-size="10.5" text-anchor="start" fill="#111" font-weight="bold" >E</text>
<line x1="90.30" y1="324.50" x2="90.30" y2="435.90" stroke="#2b2b2b" stroke-width="1"/>
<line x1="87.50" y1="435.30" x2="90.30" y2="435.30" stroke="#2b2b2b" stroke-width="1"/>
<text transform="translate(84.50,438.20) scale(0.88,1)" font-size="6.6" text-anchor="end" fill="#2e2e2e" font-weight="normal"  stroke="#2e2e2e" stroke-width="0.2">0</text>
<line x1="88.50" y1="426.30" x2="90.30" y2="426.30" stroke="#2b2b2b" stroke-width="0.8"/>
<line x1="88.50" y1="417.30" x2="90.30" y2="417.30" stroke="#2b2b2b" stroke-width="0.8"/>
<line x1="88.50" y1="408.30" x2="90.30" y2="408.30" stroke="#2b2b2b" stroke-width="0.8"/>
<line x1="88.50" y1="399.30" x2="90.30" y2="399.30" stroke="#2b2b2b" stroke-width="0.8"/>
<line x1="87.50" y1="390.30" x2="90.30" y2="390.30" stroke="#2b2b2b" stroke-width="1"/>
<text transform="translate(84.50,393.20) scale(0.88,1)" font-size="6.6" text-anchor="end" fill="#2e2e2e" font-weight="normal"  stroke="#2e2e2e" stroke-width="0.2">50</text>
<line x1="88.50" y1="381.30" x2="90.30" y2="381.30" stroke="#2b2b2b" stroke-width="0.8"/>
<line x1="88.50" y1="372.30" x2="90.30" y2="372.30" stroke="#2b2b2b" stroke-width="0.8"/>
<line x1="88.50" y1="363.30" x2="90.30" y2="363.30" stroke="#2b2b2b" stroke-width="0.8"/>
<line x1="88.50" y1="354.30" x2="90.30" y2="354.30" stroke="#2b2b2b" stroke-width="0.8"/>
<line x1="87.50" y1="345.30" x2="90.30" y2="345.30" stroke="#2b2b2b" stroke-width="1"/>
<text transform="translate(84.50,348.20) scale(0.88,1)" font-size="6.6" text-anchor="end" fill="#2e2e2e" font-weight="normal"  stroke="#2e2e2e" stroke-width="0.2">100</text>
<line x1="88.50" y1="336.30" x2="90.30" y2="336.30" stroke="#2b2b2b" stroke-width="0.8"/>
<line x1="88.50" y1="327.30" x2="90.30" y2="327.30" stroke="#2b2b2b" stroke-width="0.8"/>
<line x1="97.70" y1="346.20" x2="97.70" y2="339.40" stroke="#5a5a5a" stroke-width="1.0"/>
<line x1="95.70" y1="339.40" x2="99.70" y2="339.40" stroke="#333" stroke-width="1.1"/>
<rect x="94.65" y="346.20" width="6.10" height="89.10" fill="#cc0a2c" stroke="#9c0620" stroke-width="0.7"/>
<line x1="97.70" y1="435.30" x2="97.70" y2="437.90" stroke="#2b2b2b" stroke-width="1.0"/>
<text transform="translate(97.70,446.10) scale(0.88,1)" font-size="6.6" text-anchor="middle" fill="#2e2e2e" font-weight="normal"  stroke="#2e2e2e" stroke-width="0.2">0.5</text>
<line x1="108.95" y1="346.20" x2="108.95" y2="339.90" stroke="#5a5a5a" stroke-width="1.0"/>
<line x1="106.95" y1="339.90" x2="110.95" y2="339.90" stroke="#333" stroke-width="1.1"/>
<rect x="105.90" y="346.20" width="6.10" height="89.10" fill="#cc0a2c" stroke="#9c0620" stroke-width="0.7"/>
<line x1="108.95" y1="435.30" x2="108.95" y2="437.90" stroke="#2b2b2b" stroke-width="1.0"/>
<text transform="translate(108.95,446.10) scale(0.88,1)" font-size="6.6" text-anchor="middle" fill="#2e2e2e" font-weight="normal"  stroke="#2e2e2e" stroke-width="0.2">2</text>
<line x1="120.20" y1="346.20" x2="120.20" y2="341.30" stroke="#5a5a5a" stroke-width="1.0"/>
<line x1="118.20" y1="341.30" x2="122.20" y2="341.30" stroke="#333" stroke-width="1.1"/>
<rect x="117.15" y="346.20" width="6.10" height="89.10" fill="#cc0a2c" stroke="#9c0620" stroke-width="0.7"/>
<line x1="120.20" y1="435.30" x2="120.20" y2="437.90" stroke="#2b2b2b" stroke-width="1.0"/>
<text transform="translate(120.20,446.10) scale(0.88,1)" font-size="6.6" text-anchor="middle" fill="#2e2e2e" font-weight="normal"  stroke="#2e2e2e" stroke-width="0.2">10</text>
<line x1="139.35" y1="394.60" x2="139.35" y2="371.30" stroke="#5a5a5a" stroke-width="1.0"/>
<line x1="137.35" y1="371.30" x2="141.35" y2="371.30" stroke="#333" stroke-width="1.1"/>
<rect x="136.30" y="394.60" width="6.10" height="40.70" fill="#114a87" stroke="#0a3868" stroke-width="0.7"/>
<line x1="139.35" y1="435.30" x2="139.35" y2="437.90" stroke="#2b2b2b" stroke-width="1.0"/>
<text transform="translate(139.35,446.10) scale(0.88,1)" font-size="6.6" text-anchor="middle" fill="#2e2e2e" font-weight="normal"  stroke="#2e2e2e" stroke-width="0.2">0.5</text>
<line x1="150.60" y1="414.70" x2="150.60" y2="393.30" stroke="#5a5a5a" stroke-width="1.0"/>
<line x1="148.60" y1="393.30" x2="152.60" y2="393.30" stroke="#333" stroke-width="1.1"/>
<rect x="147.55" y="414.70" width="6.10" height="20.60" fill="#114a87" stroke="#0a3868" stroke-width="0.7"/>
<line x1="150.60" y1="435.30" x2="150.60" y2="437.90" stroke="#2b2b2b" stroke-width="1.0"/>
<text transform="translate(150.60,446.10) scale(0.88,1)" font-size="6.6" text-anchor="middle" fill="#2e2e2e" font-weight="normal"  stroke="#2e2e2e" stroke-width="0.2">2</text>
<line x1="161.85" y1="423.00" x2="161.85" y2="414.30" stroke="#5a5a5a" stroke-width="1.0"/>
<line x1="159.85" y1="414.30" x2="163.85" y2="414.30" stroke="#333" stroke-width="1.1"/>
<rect x="158.80" y="423.00" width="6.10" height="12.30" fill="#114a87" stroke="#0a3868" stroke-width="0.7"/>
<line x1="161.85" y1="435.30" x2="161.85" y2="437.90" stroke="#2b2b2b" stroke-width="1.0"/>
<text transform="translate(161.85,446.10) scale(0.88,1)" font-size="6.6" text-anchor="middle" fill="#2e2e2e" font-weight="normal"  stroke="#2e2e2e" stroke-width="0.2">10</text>
<line x1="180.60" y1="417.80" x2="180.60" y2="411.40" stroke="#5a5a5a" stroke-width="1.0"/>
<line x1="178.60" y1="411.40" x2="182.60" y2="411.40" stroke="#333" stroke-width="1.1"/>
<rect x="177.55" y="417.80" width="6.10" height="17.50" fill="#3aaa35" stroke="#2a8a28" stroke-width="0.7"/>
<line x1="180.60" y1="435.30" x2="180.60" y2="437.90" stroke="#2b2b2b" stroke-width="1.0"/>
<text transform="translate(180.60,446.10) scale(0.88,1)" font-size="6.6" text-anchor="middle" fill="#2e2e2e" font-weight="normal"  stroke="#2e2e2e" stroke-width="0.2">0.5</text>
<line x1="191.85" y1="413.50" x2="191.85" y2="405.50" stroke="#5a5a5a" stroke-width="1.0"/>
<line x1="189.85" y1="405.50" x2="193.85" y2="405.50" stroke="#333" stroke-width="1.1"/>
<rect x="188.80" y="413.50" width="6.10" height="21.80" fill="#3aaa35" stroke="#2a8a28" stroke-width="0.7"/>
<line x1="191.85" y1="435.30" x2="191.85" y2="437.90" stroke="#2b2b2b" stroke-width="1.0"/>
<text transform="translate(191.85,446.10) scale(0.88,1)" font-size="6.6" text-anchor="middle" fill="#2e2e2e" font-weight="normal"  stroke="#2e2e2e" stroke-width="0.2">2</text>
<line x1="203.10" y1="411.60" x2="203.10" y2="401.50" stroke="#5a5a5a" stroke-width="1.0"/>
<line x1="201.10" y1="401.50" x2="205.10" y2="401.50" stroke="#333" stroke-width="1.1"/>
<rect x="200.05" y="411.60" width="6.10" height="23.70" fill="#3aaa35" stroke="#2a8a28" stroke-width="0.7"/>
<line x1="203.10" y1="435.30" x2="203.10" y2="437.90" stroke="#2b2b2b" stroke-width="1.0"/>
<text transform="translate(203.10,446.10) scale(0.88,1)" font-size="6.6" text-anchor="middle" fill="#2e2e2e" font-weight="normal"  stroke="#2e2e2e" stroke-width="0.2">10</text>
<line x1="221.90" y1="384.70" x2="221.90" y2="346.10" stroke="#5a5a5a" stroke-width="1.0"/>
<line x1="219.90" y1="346.10" x2="223.90" y2="346.10" stroke="#333" stroke-width="1.1"/>
<rect x="218.85" y="384.70" width="6.10" height="50.60" fill="#601d6a" stroke="#45124e" stroke-width="0.7"/>
<line x1="221.90" y1="435.30" x2="221.90" y2="437.90" stroke="#2b2b2b" stroke-width="1.0"/>
<text transform="translate(221.90,446.10) scale(0.88,1)" font-size="6.6" text-anchor="middle" fill="#2e2e2e" font-weight="normal"  stroke="#2e2e2e" stroke-width="0.2">0.5</text>
<line x1="233.15" y1="385.90" x2="233.15" y2="361.20" stroke="#5a5a5a" stroke-width="1.0"/>
<line x1="231.15" y1="361.20" x2="235.15" y2="361.20" stroke="#333" stroke-width="1.1"/>
<rect x="230.10" y="385.90" width="6.10" height="49.40" fill="#601d6a" stroke="#45124e" stroke-width="0.7"/>
<line x1="233.15" y1="435.30" x2="233.15" y2="437.90" stroke="#2b2b2b" stroke-width="1.0"/>
<text transform="translate(233.15,446.10) scale(0.88,1)" font-size="6.6" text-anchor="middle" fill="#2e2e2e" font-weight="normal"  stroke="#2e2e2e" stroke-width="0.2">2</text>
<line x1="244.40" y1="384.00" x2="244.40" y2="363.50" stroke="#5a5a5a" stroke-width="1.0"/>
<line x1="242.40" y1="363.50" x2="246.40" y2="363.50" stroke="#333" stroke-width="1.1"/>
<rect x="241.35" y="384.00" width="6.10" height="51.30" fill="#601d6a" stroke="#45124e" stroke-width="0.7"/>
<line x1="244.40" y1="435.30" x2="244.40" y2="437.90" stroke="#2b2b2b" stroke-width="1.0"/>
<text transform="translate(244.40,446.10) scale(0.88,1)" font-size="6.6" text-anchor="middle" fill="#2e2e2e" font-weight="normal"  stroke="#2e2e2e" stroke-width="0.2">10</text>
<line x1="89.30" y1="435.30" x2="252.30" y2="435.30" stroke="#2b2b2b" stroke-width="1.2"/>
<rect x="113.10" y="315.30" width="5.80" height="5.30" fill="#cc0a2c"/>
<text transform="translate(122.00,320.50) scale(0.88,1)" font-size="6.6" text-anchor="start" fill="#2e2e2e" font-weight="normal"  stroke="#2e2e2e" stroke-width="0.2">Scaffold</text>
<rect x="151.90" y="315.30" width="5.80" height="5.30" fill="#114a87"/>
<text transform="translate(160.80,320.50) scale(0.88,1)" font-size="6.6" text-anchor="start" fill="#2e2e2e" font-weight="normal"  stroke="#2e2e2e" stroke-width="0.2">M17</text>
<rect x="181.00" y="315.30" width="5.80" height="5.30" fill="#3aaa35"/>
<text transform="translate(189.90,320.50) scale(0.88,1)" font-size="6.6" text-anchor="start" fill="#2e2e2e" font-weight="normal"  stroke="#2e2e2e" stroke-width="0.2">D22</text>
<rect x="209.80" y="315.30" width="5.80" height="5.30" fill="#601d6a"/>
<text transform="translate(218.70,320.50) scale(0.88,1)" font-size="6.6" text-anchor="start" fill="#2e2e2e" font-weight="normal"  stroke="#2e2e2e" stroke-width="0.2">D18</text>
<text transform="translate(171.80,457.00) scale(0.83,1)" font-size="7.3" text-anchor="middle" fill="#222" font-weight="normal"  stroke="#222" stroke-width="0.2">Affimer concentration (&#956;g/ml)</text>
<text transform="translate(59.30,380.40) rotate(-90) scale(0.795,1)" font-size="7.2" text-anchor="middle" fill="#2e2e2e" font-weight="normal" stroke="#2e2e2e" stroke-width="0.2">Normalized aggregation (%)</text>
<text transform="translate(68.30,379.90) rotate(-90) scale(0.8,1)" font-size="7.2" text-anchor="middle" fill="#2e2e2e" font-weight="normal" stroke="#2e2e2e" stroke-width="0.2">induced by CRP</text>
<text x="268.00" y="311.80" font-size="10.5" text-anchor="start" fill="#111" font-weight="bold" >F</text>
<line x1="316.00" y1="324.50" x2="316.00" y2="435.90" stroke="#2b2b2b" stroke-width="1"/>
<line x1="313.20" y1="435.30" x2="316.00" y2="435.30" stroke="#2b2b2b" stroke-width="1"/>
<text transform="translate(310.20,438.20) scale(0.88,1)" font-size="6.6" text-anchor="end" fill="#2e2e2e" font-weight="normal"  stroke="#2e2e2e" stroke-width="0.2">0</text>
<line x1="314.20" y1="426.30" x2="316.00" y2="426.30" stroke="#2b2b2b" stroke-width="0.8"/>
<line x1="314.20" y1="417.30" x2="316.00" y2="417.30" stroke="#2b2b2b" stroke-width="0.8"/>
<line x1="314.20" y1="408.30" x2="316.00" y2="408.30" stroke="#2b2b2b" stroke-width="0.8"/>
<line x1="314.20" y1="399.30" x2="316.00" y2="399.30" stroke="#2b2b2b" stroke-width="0.8"/>
<line x1="313.20" y1="390.30" x2="316.00" y2="390.30" stroke="#2b2b2b" stroke-width="1"/>
<text transform="translate(310.20,393.20) scale(0.88,1)" font-size="6.6" text-anchor="end" fill="#2e2e2e" font-weight="normal"  stroke="#2e2e2e" stroke-width="0.2">50</text>
<line x1="314.20" y1="381.30" x2="316.00" y2="381.30" stroke="#2b2b2b" stroke-width="0.8"/>
<line x1="314.20" y1="372.30" x2="316.00" y2="372.30" stroke="#2b2b2b" stroke-width="0.8"/>
<line x1="314.20" y1="363.30" x2="316.00" y2="363.30" stroke="#2b2b2b" stroke-width="0.8"/>
<line x1="314.20" y1="354.30" x2="316.00" y2="354.30" stroke="#2b2b2b" stroke-width="0.8"/>
<line x1="313.20" y1="345.30" x2="316.00" y2="345.30" stroke="#2b2b2b" stroke-width="1"/>
<text transform="translate(310.20,348.20) scale(0.88,1)" font-size="6.6" text-anchor="end" fill="#2e2e2e" font-weight="normal"  stroke="#2e2e2e" stroke-width="0.2">100</text>
<line x1="314.20" y1="336.30" x2="316.00" y2="336.30" stroke="#2b2b2b" stroke-width="0.8"/>
<line x1="314.20" y1="327.30" x2="316.00" y2="327.30" stroke="#2b2b2b" stroke-width="0.8"/>
<line x1="323.40" y1="346.10" x2="323.40" y2="339.00" stroke="#5a5a5a" stroke-width="1.0"/>
<line x1="321.40" y1="339.00" x2="325.40" y2="339.00" stroke="#333" stroke-width="1.1"/>
<rect x="320.35" y="346.10" width="6.10" height="89.20" fill="#cc0a2c" stroke="#9c0620" stroke-width="0.7"/>
<line x1="323.40" y1="435.30" x2="323.40" y2="437.90" stroke="#2b2b2b" stroke-width="1.0"/>
<text transform="translate(323.40,446.10) scale(0.88,1)" font-size="6.6" text-anchor="middle" fill="#2e2e2e" font-weight="normal"  stroke="#2e2e2e" stroke-width="0.2">0.5</text>
<line x1="334.65" y1="346.10" x2="334.65" y2="332.90" stroke="#5a5a5a" stroke-width="1.0"/>
<line x1="332.65" y1="332.90" x2="336.65" y2="332.90" stroke="#333" stroke-width="1.1"/>
<rect x="331.60" y="346.10" width="6.10" height="89.20" fill="#cc0a2c" stroke="#9c0620" stroke-width="0.7"/>
<line x1="334.65" y1="435.30" x2="334.65" y2="437.90" stroke="#2b2b2b" stroke-width="1.0"/>
<text transform="translate(334.65,446.10) scale(0.88,1)" font-size="6.6" text-anchor="middle" fill="#2e2e2e" font-weight="normal"  stroke="#2e2e2e" stroke-width="0.2">2</text>
<line x1="345.90" y1="346.10" x2="345.90" y2="336.60" stroke="#5a5a5a" stroke-width="1.0"/>
<line x1="343.90" y1="336.60" x2="347.90" y2="336.60" stroke="#333" stroke-width="1.1"/>
<rect x="342.85" y="346.10" width="6.10" height="89.20" fill="#cc0a2c" stroke="#9c0620" stroke-width="0.7"/>
<line x1="345.90" y1="435.30" x2="345.90" y2="437.90" stroke="#2b2b2b" stroke-width="1.0"/>
<text transform="translate(345.90,446.10) scale(0.88,1)" font-size="6.6" text-anchor="middle" fill="#2e2e2e" font-weight="normal"  stroke="#2e2e2e" stroke-width="0.2">5</text>
<line x1="365.05" y1="355.50" x2="365.05" y2="339.80" stroke="#5a5a5a" stroke-width="1.0"/>
<line x1="363.05" y1="339.80" x2="367.05" y2="339.80" stroke="#333" stroke-width="1.1"/>
<rect x="362.00" y="355.50" width="6.10" height="79.80" fill="#114a87" stroke="#0a3868" stroke-width="0.7"/>
<line x1="365.05" y1="435.30" x2="365.05" y2="437.90" stroke="#2b2b2b" stroke-width="1.0"/>
<text transform="translate(365.05,446.10) scale(0.88,1)" font-size="6.6" text-anchor="middle" fill="#2e2e2e" font-weight="normal"  stroke="#2e2e2e" stroke-width="0.2">0.5</text>
<line x1="376.30" y1="356.70" x2="376.30" y2="347.20" stroke="#5a5a5a" stroke-width="1.0"/>
<line x1="374.30" y1="347.20" x2="378.30" y2="347.20" stroke="#333" stroke-width="1.1"/>
<rect x="373.25" y="356.70" width="6.10" height="78.60" fill="#114a87" stroke="#0a3868" stroke-width="0.7"/>
<line x1="376.30" y1="435.30" x2="376.30" y2="437.90" stroke="#2b2b2b" stroke-width="1.0"/>
<text transform="translate(376.30,446.10) scale(0.88,1)" font-size="6.6" text-anchor="middle" fill="#2e2e2e" font-weight="normal"  stroke="#2e2e2e" stroke-width="0.2">2</text>
<line x1="387.55" y1="370.30" x2="387.55" y2="344.20" stroke="#5a5a5a" stroke-width="1.0"/>
<line x1="385.55" y1="344.20" x2="389.55" y2="344.20" stroke="#333" stroke-width="1.1"/>
<rect x="384.50" y="370.30" width="6.10" height="65.00" fill="#114a87" stroke="#0a3868" stroke-width="0.7"/>
<line x1="387.55" y1="435.30" x2="387.55" y2="437.90" stroke="#2b2b2b" stroke-width="1.0"/>
<text transform="translate(387.55,446.10) scale(0.88,1)" font-size="6.6" text-anchor="middle" fill="#2e2e2e" font-weight="normal"  stroke="#2e2e2e" stroke-width="0.2">5</text>
<line x1="406.30" y1="352.30" x2="406.30" y2="340.30" stroke="#5a5a5a" stroke-width="1.0"/>
<line x1="404.30" y1="340.30" x2="408.30" y2="340.30" stroke="#333" stroke-width="1.1"/>
<rect x="403.25" y="352.30" width="6.10" height="83.00" fill="#3aaa35" stroke="#2a8a28" stroke-width="0.7"/>
<line x1="406.30" y1="435.30" x2="406.30" y2="437.90" stroke="#2b2b2b" stroke-width="1.0"/>
<text transform="translate(406.30,446.10) scale(0.88,1)" font-size="6.6" text-anchor="middle" fill="#2e2e2e" font-weight="normal"  stroke="#2e2e2e" stroke-width="0.2">0.5</text>
<line x1="417.55" y1="351.00" x2="417.55" y2="336.60" stroke="#5a5a5a" stroke-width="1.0"/>
<line x1="415.55" y1="336.60" x2="419.55" y2="336.60" stroke="#333" stroke-width="1.1"/>
<rect x="414.50" y="351.00" width="6.10" height="84.30" fill="#3aaa35" stroke="#2a8a28" stroke-width="0.7"/>
<line x1="417.55" y1="435.30" x2="417.55" y2="437.90" stroke="#2b2b2b" stroke-width="1.0"/>
<text transform="translate(417.55,446.10) scale(0.88,1)" font-size="6.6" text-anchor="middle" fill="#2e2e2e" font-weight="normal"  stroke="#2e2e2e" stroke-width="0.2">2</text>
<line x1="428.80" y1="386.60" x2="428.80" y2="368.60" stroke="#5a5a5a" stroke-width="1.0"/>
<line x1="426.80" y1="368.60" x2="430.80" y2="368.60" stroke="#333" stroke-width="1.1"/>
<rect x="425.75" y="386.60" width="6.10" height="48.70" fill="#3aaa35" stroke="#2a8a28" stroke-width="0.7"/>
<line x1="428.80" y1="435.30" x2="428.80" y2="437.90" stroke="#2b2b2b" stroke-width="1.0"/>
<text transform="translate(428.80,446.10) scale(0.88,1)" font-size="6.6" text-anchor="middle" fill="#2e2e2e" font-weight="normal"  stroke="#2e2e2e" stroke-width="0.2">5</text>
<line x1="447.60" y1="343.90" x2="447.60" y2="335.10" stroke="#5a5a5a" stroke-width="1.0"/>
<line x1="445.60" y1="335.10" x2="449.60" y2="335.10" stroke="#333" stroke-width="1.1"/>
<rect x="444.55" y="343.90" width="6.10" height="91.40" fill="#601d6a" stroke="#45124e" stroke-width="0.7"/>
<line x1="447.60" y1="435.30" x2="447.60" y2="437.90" stroke="#2b2b2b" stroke-width="1.0"/>
<text transform="translate(447.60,446.10) scale(0.88,1)" font-size="6.6" text-anchor="middle" fill="#2e2e2e" font-weight="normal"  stroke="#2e2e2e" stroke-width="0.2">0.5</text>
<line x1="458.85" y1="338.70" x2="458.85" y2="333.60" stroke="#5a5a5a" stroke-width="1.0"/>
<line x1="456.85" y1="333.60" x2="460.85" y2="333.60" stroke="#333" stroke-width="1.1"/>
<rect x="455.80" y="338.70" width="6.10" height="96.60" fill="#601d6a" stroke="#45124e" stroke-width="0.7"/>
<line x1="458.85" y1="435.30" x2="458.85" y2="437.90" stroke="#2b2b2b" stroke-width="1.0"/>
<text transform="translate(458.85,446.10) scale(0.88,1)" font-size="6.6" text-anchor="middle" fill="#2e2e2e" font-weight="normal"  stroke="#2e2e2e" stroke-width="0.2">2</text>
<line x1="470.10" y1="345.10" x2="470.10" y2="336.30" stroke="#5a5a5a" stroke-width="1.0"/>
<line x1="468.10" y1="336.30" x2="472.10" y2="336.30" stroke="#333" stroke-width="1.1"/>
<rect x="467.05" y="345.10" width="6.10" height="90.20" fill="#601d6a" stroke="#45124e" stroke-width="0.7"/>
<line x1="470.10" y1="435.30" x2="470.10" y2="437.90" stroke="#2b2b2b" stroke-width="1.0"/>
<text transform="translate(470.10,446.10) scale(0.88,1)" font-size="6.6" text-anchor="middle" fill="#2e2e2e" font-weight="normal"  stroke="#2e2e2e" stroke-width="0.2">5</text>
<line x1="315.00" y1="435.30" x2="478.00" y2="435.30" stroke="#2b2b2b" stroke-width="1.2"/>
<rect x="338.80" y="315.30" width="5.80" height="5.30" fill="#cc0a2c"/>
<text transform="translate(347.70,320.50) scale(0.88,1)" font-size="6.6" text-anchor="start" fill="#2e2e2e" font-weight="normal"  stroke="#2e2e2e" stroke-width="0.2">Scaffold</text>
<rect x="377.60" y="315.30" width="5.80" height="5.30" fill="#114a87"/>
<text transform="translate(386.50,320.50) scale(0.88,1)" font-size="6.6" text-anchor="start" fill="#2e2e2e" font-weight="normal"  stroke="#2e2e2e" stroke-width="0.2">M17</text>
<rect x="406.70" y="315.30" width="5.80" height="5.30" fill="#3aaa35"/>
<text transform="translate(415.60,320.50) scale(0.88,1)" font-size="6.6" text-anchor="start" fill="#2e2e2e" font-weight="normal"  stroke="#2e2e2e" stroke-width="0.2">D22</text>
<rect x="435.50" y="315.30" width="5.80" height="5.30" fill="#601d6a"/>
<text transform="translate(444.40,320.50) scale(0.88,1)" font-size="6.6" text-anchor="start" fill="#2e2e2e" font-weight="normal"  stroke="#2e2e2e" stroke-width="0.2">D18</text>
<text transform="translate(397.50,457.00) scale(0.83,1)" font-size="7.3" text-anchor="middle" fill="#222" font-weight="normal"  stroke="#222" stroke-width="0.2">Affimer concentration (&#956;g/ml)</text>
<text transform="translate(285.00,380.40) rotate(-90) scale(0.795,1)" font-size="7.2" text-anchor="middle" fill="#2e2e2e" font-weight="normal" stroke="#2e2e2e" stroke-width="0.2">Normalised aggregation (%)</text>
<text transform="translate(294.00,379.90) rotate(-90) scale(0.8,1)" font-size="7.2" text-anchor="middle" fill="#2e2e2e" font-weight="normal" stroke="#2e2e2e" stroke-width="0.2">induced by collagen</text>
</svg></div>
<div id="frame"></div>
</body></html>
